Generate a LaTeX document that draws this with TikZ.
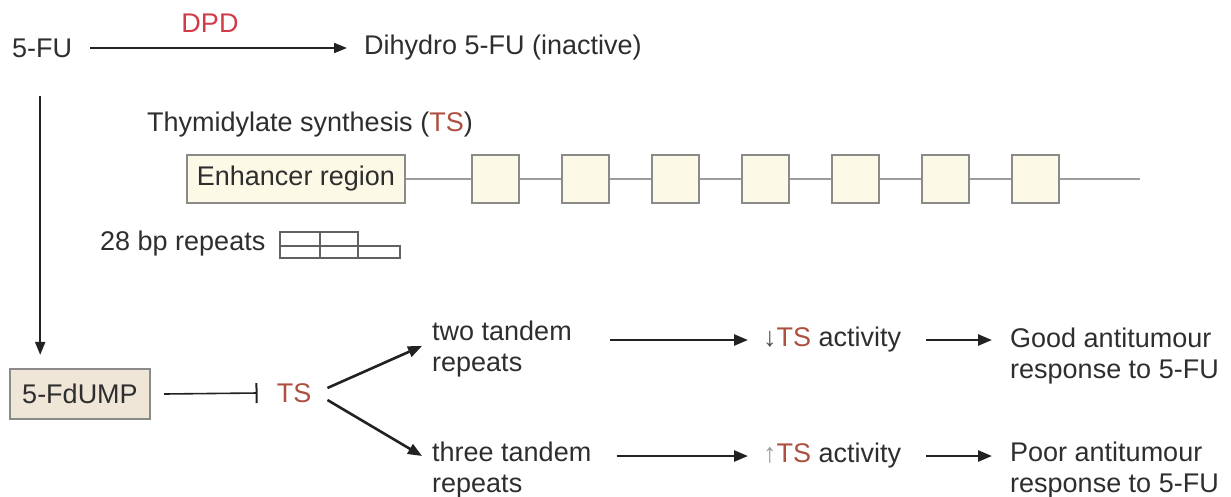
\documentclass[tikz,border=0pt]{standalone}
\usepackage{fontspec}
\setmainfont{Liberation Sans}
\usetikzlibrary{arrows.meta,calc}
\definecolor{txt}{HTML}{2E2E2E}
\definecolor{tsred}{HTML}{AD5040}
\definecolor{dpdred}{HTML}{D23A48}
\definecolor{cream}{HTML}{FCF9E6}
\definecolor{beige}{HTML}{F0E6D8}
\definecolor{edge}{HTML}{8A8A8A}
\definecolor{ink}{HTML}{222222}
\tikzset{
  lbl/.style={font=\fontsize{27}{31}\selectfont, text=txt, inner sep=0pt},
  arr/.style={draw=ink, line width=2.6pt, -{Triangle[length=14pt,width=11pt]}},
  thinarr/.style={draw=ink, line width=2pt, -{Triangle[length=13pt,width=10pt]}},
  inh/.style={draw=ink, line width=1.6pt, -{Bar[width=20pt,line width=2pt]}},
  boxed/.style={lbl, draw=edge, line width=2.2pt},
  sq/.style={draw=edge, line width=2.2pt, fill=cream, minimum width=47pt, minimum height=48pt, inner sep=0pt},
  bb/.style={draw=edge!85, line width=2.5pt},
  rep/.style={draw=edge!70!black, line width=1.1pt}
}
\begin{document}
\begin{tikzpicture}[x=1pt,y=-1pt]
\useasboundingbox (0,0) rectangle (1231,496);
% top row
\node[lbl, anchor=west] (fu) at (12,48) {5-FU};
\node[lbl, anchor=west] (dih) at (364,48) {Dihydro 5-FU (inactive)};
\node[lbl, text=dpdred] (dpd) at (210,23) {DPD};
\draw[thinarr] ([xshift=18pt]fu.east) -- ([xshift=-17pt]dih.west);
% TS gene
\node[lbl, anchor=west] (tsg) at (147,125) {Thymidylate synthesis (\textcolor{tsred}{TS})};
\node[boxed, fill=cream, minimum width=218pt, minimum height=48pt] (enh) at (296,179) {Enhancer region};
\foreach \i in {0,...,6}{
  \node[sq] (s\i) at (495.5+90*\i,179) {};
}
\coordinate (bbend) at (1140,179);
\draw[bb] (enh.east) -- (s0.west);
\foreach \i [evaluate=\i as \j using int(\i+1)] in {0,...,5}{
  \draw[bb] (s\i.east) -- (s\j.west);
}
\draw[bb] (s6.east) -- (bbend);
% 28 bp repeats
\node[lbl, anchor=west] (bp) at (100,244) {28 bp repeats};
\draw[rep] (280,232) rectangle (320,246);
\draw[rep] (320,232) rectangle (358,246);
\draw[rep] (280,246) rectangle (320,258);
\draw[rep] (320,246) rectangle (358,258);
\draw[rep] (358,246) rectangle (400,258);
% lower part
\node[boxed, fill=beige, minimum width=140pt, minimum height=50pt] (fd) at (80,394) {5-FdUMP};
\draw[thinarr] ($(fu.south)+(-2,38)$) -- ($(fu.south |- fd.north)+(-2,-13)$);
\node[lbl, text=tsred] (ts) at (294,393) {TS};
\draw[inh] ([xshift=13pt]fd.east) -- ([xshift=-19pt]ts.west);
\node[lbl, anchor=west, align=left] (two) at (432,349) {two tandem\\repeats};
\node[lbl, anchor=west, align=left] (three) at (432,470) {three tandem\\repeats};
\draw[arr] ($(ts.east)+(16,-5)$) -- ($(two.west)+(-10,-3)$);
\draw[arr] ($(ts.east)+(16,7)$) -- ($(three.west)+(-10,-14)$);
\node[lbl, anchor=west] (dn) at (763,340) {\textcolor{black!70}{↓}\textcolor{tsred}{TS} activity};
\node[lbl, anchor=west] (up) at (763,456) {\textcolor{black!40}{↑}\textcolor{tsred}{TS} activity};
\draw[arr] ($(two.east |- dn.west)+(38,0)$) -- ([xshift=-15pt]dn.west);
\draw[arr] ($(three.east |- up.west)+(25,0)$) -- ([xshift=-15pt]up.west);
\node[lbl, anchor=west, align=left] (gd) at (1010,356) {Good antitumour\\response to 5-FU};
\node[lbl, anchor=west, align=left] (pr) at (1010,470) {Poor antitumour\\response to 5-FU};
\draw[arr] ([xshift=25pt]dn.east) -- ($(dn.east -| gd.west)+(-18,0)$);
\draw[arr] ([xshift=25pt]up.east) -- ($(up.east -| pr.west)+(-18,0)$);
\end{tikzpicture}
\end{document}
